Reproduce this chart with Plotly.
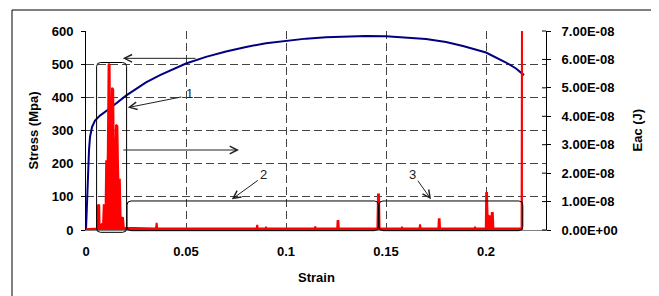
import plotly.graph_objects as go

# ---------------- data ----------------
stress_strain = [0.0, 0.0005, 0.001, 0.0015, 0.002, 0.003, 0.0045, 0.007, 0.012, 0.02,
                 0.03, 0.037, 0.05, 0.06, 0.07, 0.08, 0.09, 0.1, 0.11, 0.12, 0.13,
                 0.14, 0.15, 0.16, 0.17, 0.18, 0.1885, 0.2, 0.205, 0.21, 0.215, 0.219]
stress_mpa = [0, 100, 180, 240, 280, 310, 330, 345, 367, 405,
              445, 467, 502, 522, 538, 552, 563, 571, 577, 581, 584,
              585, 584, 581, 576, 567, 555, 535, 520, 505, 487, 467]

eac_strain = [0.0, 0.003, 0.0055, 0.0057, 0.0063, 0.0066, 0.0068, 0.0078, 0.0085, 0.0089,
              0.0093, 0.0097, 0.0101, 0.0106, 0.0109, 0.0113, 0.0118, 0.0121, 0.0126, 0.0130,
              0.0136, 0.0139, 0.0145, 0.0150, 0.0157, 0.0160, 0.0165, 0.0169, 0.0173, 0.0185,
              0.0189, 0.035, 0.0353, 0.0356, 0.0853, 0.0856, 0.0859, 0.0898, 0.09, 0.0902,
              0.1143, 0.1146, 0.1149, 0.1256, 0.1258, 0.1262, 0.1264, 0.1457, 0.146, 0.1465,
              0.1468, 0.1578, 0.158, 0.1582, 0.1668, 0.167, 0.1674, 0.1762, 0.1764, 0.1768,
              0.177, 0.1943, 0.1945, 0.1947, 0.1999, 0.2001, 0.2005, 0.2008, 0.2012, 0.2018,
              0.2022, 0.2026, 0.2029, 0.2034, 0.2037, 0.2178, 0.2180, 0.2184]
# Eac in units of 1e-8 J
eac_e8 = [0.03, 0.05, 0.05, 0.88, 0.85, 0.9, 0.08, 0.2, 0.15, 0.9,
          0.85, 0.2, 2.45, 1.9, 2.7, 5.85, 5.8, 2.7, 2.9, 5.0,
          4.95, 2.5, 2.3, 3.7, 3.65, 2.3, 0.9, 1.8, 0.45, 0.42,
          0.08, 0.05, 0.25, 0.05, 0.05, 0.18, 0.05, 0.05, 0.12, 0.05,
          0.05, 0.12, 0.05, 0.05, 0.32, 0.32, 0.05, 0.05, 1.25, 1.25,
          0.05, 0.05, 0.12, 0.05, 0.05, 0.2, 0.05, 0.05, 0.38, 0.38,
          0.05, 0.05, 0.12, 0.05, 0.05, 1.3, 1.3, 0.45, 0.5, 0.45,
          0.5, 0.3, 0.6, 0.6, 0.05, 0.05, 7.6, 7.6]
eac_j = [v * 1e-8 for v in eac_e8]

x_tickvals = [0, 0.05, 0.1, 0.15, 0.2]
x_ticktext = ["0", "0.05", "0.1", "0.15", "0.2"]
y_tickvals = [0, 100, 200, 300, 400, 500, 600]
y2_tickvals = [0, 1e-8, 2e-8, 3e-8, 4e-8, 5e-8, 6e-8, 7e-8]
y2_ticktext = ["0.00E+00", "1.00E-08", "2.00E-08", "3.00E-08",
               "4.00E-08", "5.00E-08", "6.00E-08", "7.00E-08"]

# annotation regions (strain range, stress range)
box_x0 = [0.0053, 0.0205, 0.1465]
box_x1 = [0.0203, 0.1462, 0.2184]
box_y0 = [-7, -2, -2]
box_y1 = [505, 87.5, 87.5]
label_text = ["1", "2", "3"]
label_x = [0.0515, 0.0885, 0.1634]
label_y = [411, 167, 167]
label_tail_x = [0.0484, 0.0867, 0.1654]
label_tail_y = [402, 153, 153]
label_head_x = [0.0209, 0.0729, 0.1725]
label_head_y = [369, 92.6, 92.6]

X_RANGE = [0, 0.23]
Y_RANGE = [0, 600]
Y2_RANGE = [0, 7e-8]

# page geometry (the page body has an 8px margin)
OFF = 8
PAGE_W, PAGE_H = 659, 296
PLOT_L, PLOT_R, PLOT_T, PLOT_B = 86, 546, 31, 230
W, H = PAGE_W - OFF, PAGE_H - OFF
ML, MT = PLOT_L - OFF, PLOT_T - OFF
MR, MB = PAGE_W - PLOT_R, PAGE_H - PLOT_B
PW = PLOT_R - PLOT_L
PH = PLOT_B - PLOT_T

FONT = "Liberation Sans, Arial, sans-serif"


def px(x):
    return (x - X_RANGE[0]) / (X_RANGE[1] - X_RANGE[0])


def py(y):
    return (y - Y_RANGE[0]) / (Y_RANGE[1] - Y_RANGE[0])


def pagex(x):
    return (x - PLOT_L) / PW


def pagey(y):
    return (PLOT_B - y) / PH


def rrect(x0, x1, y0, y1, r=4):
    rx, ry = r / PW, r / PH
    return (f"M {x0+rx},{y0} L {x1-rx},{y0} Q {x1},{y0} {x1},{y0+ry} "
            f"L {x1},{y1-ry} Q {x1},{y1} {x1-rx},{y1} L {x0+rx},{y1} "
            f"Q {x0},{y1} {x0},{y1-ry} L {x0},{y0+ry} Q {x0},{y0} {x0+rx},{y0} Z")


fig = go.Figure()
fig.add_trace(go.Scatter(x=stress_strain, y=stress_mpa, mode="lines",
                         line=dict(color="#000080", width=2), yaxis="y",
                         hoverinfo="skip"))
fig.add_trace(go.Scatter(x=eac_strain, y=eac_j, mode="lines",
                         line=dict(color="#ff0000", width=2), fill="tozeroy",
                         fillcolor="#ff0000", yaxis="y2", hoverinfo="skip"))

shapes = []
# outer frame
shapes.append(dict(type="rect", xref="paper", yref="paper",
                   x0=pagex(12), x1=pagex(653), y0=pagey(305), y1=pagey(10),
                   line=dict(color="black", width=1), layer="below"))
for i in range(3):
    shapes.append(dict(type="path", xref="paper", yref="paper",
                       path=rrect(px(box_x0[i]), px(box_x1[i]), py(box_y0[i]), py(box_y1[i])),
                       line=dict(color="black", width=1)))
# inside part of crossing ticks on right axis
for v in y2_tickvals:
    yp = (v - Y2_RANGE[0]) / (Y2_RANGE[1] - Y2_RANGE[0])
    shapes.append(dict(type="line", xref="paper", yref="paper",
                       x0=1 - 4 / PW, x1=1, y0=yp, y1=yp,
                       line=dict(color="black", width=1)))

annotations = []
# arrows pointing to the axes
annotations.append(dict(x=0.0184, y=517.6, ax=0.0555, ay=517.6, xref="x", yref="y",
                        axref="x", ayref="y", text="", showarrow=True, arrowhead=5,
                        arrowsize=1.5, arrowwidth=1, arrowcolor="#222"))
annotations.append(dict(x=0.0765, y=241.2, ax=0.0179, ay=241.2, xref="x", yref="y",
                        axref="x", ayref="y", text="", showarrow=True, arrowhead=5,
                        arrowsize=1.5, arrowwidth=1, arrowcolor="#222"))
for i in range(3):
    annotations.append(dict(x=label_head_x[i], y=label_head_y[i],
                            ax=label_tail_x[i], ay=label_tail_y[i],
                            xref="x", yref="y", axref="x", ayref="y", text="",
                            showarrow=True, arrowhead=5, arrowsize=1.5, arrowwidth=1,
                            arrowcolor="#222"))
    annotations.append(dict(x=label_x[i], y=label_y[i], xref="x", yref="y",
                            text=label_text[i], showarrow=False,
                            xanchor="center", yanchor="middle",
                            font=dict(family=FONT, size=13, color="#222")))
# axis titles
title_font = dict(family=FONT, size=13, color="black", weight="bold")
annotations.append(dict(x=pagex(33), y=0.5, xref="paper", yref="paper",
                        text="Stress (Mpa)", textangle=-90, showarrow=False,
                        xanchor="center", yanchor="middle", font=title_font))
annotations.append(dict(x=pagex(637), y=0.5, xref="paper", yref="paper",
                        text="Eac (J)", textangle=-90, showarrow=False,
                        xanchor="center", yanchor="middle", font=title_font))
annotations.append(dict(x=0.5, y=pagey(277), xref="paper", yref="paper",
                        text="Strain", showarrow=False,
                        xanchor="center", yanchor="middle", font=title_font))

tickfont = dict(family=FONT, size=13, color="black", weight="bold")
grid = dict(showgrid=True, gridcolor="#444", gridwidth=1, griddash="8px,4px")

fig.update_layout(
    width=W, height=H,
    margin=dict(l=ML, r=MR, t=MT, b=MB, pad=0),
    paper_bgcolor="white", plot_bgcolor="white",
    showlegend=False,
    shapes=shapes, annotations=annotations,
    xaxis=dict(range=X_RANGE, tickvals=x_tickvals, ticktext=x_ticktext,
               showline=True, linecolor="#808080", linewidth=1, ticks="",
               zeroline=False, tickfont=tickfont, ticklabelstandoff=9, **grid),
    yaxis=dict(range=Y_RANGE, tickvals=y_tickvals, showline=True, linecolor="black",
               linewidth=1, ticks="outside", ticklen=4, tickcolor="black",
               zeroline=False, tickfont=tickfont, ticklabelstandoff=5, **grid),
    yaxis2=dict(range=Y2_RANGE, overlaying="y", side="right", tickvals=y2_tickvals,
                ticktext=y2_ticktext, showline=True, linecolor="black", linewidth=1,
                ticks="outside", ticklen=4, tickcolor="black", showgrid=False,
                zeroline=False, tickfont=tickfont, ticklabelstandoff=8),
)

fig.write_html("out.html")
